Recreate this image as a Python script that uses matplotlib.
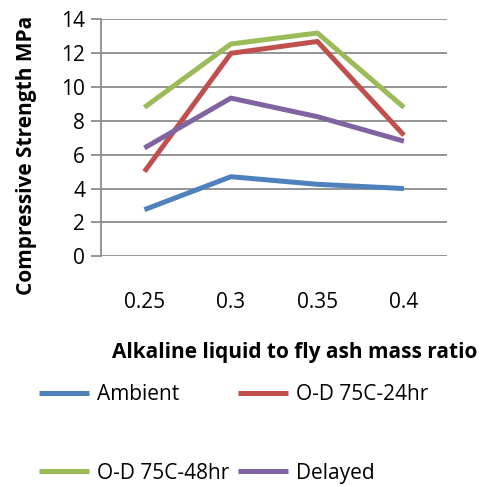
import matplotlib
matplotlib.use("Agg")
import matplotlib.pyplot as plt

ratios = ["0.25", "0.3", "0.35", "0.4"]
ambient = [2.75, 4.7, 4.25, 4.0]
od_24hr = [5.0, 12.0, 12.7, 7.15]
od_48hr = [8.8, 12.55, 13.2, 8.8]
delayed = [6.4, 9.35, 8.25, 6.8]

series = [
    ("Ambient", ambient, "#4F81BD"),
    ("O-D 75C-24hr", od_24hr, "#C0504D"),
    ("O-D 75C-48hr", od_48hr, "#9BBB59"),
    ("Delayed", delayed, "#8064A2"),
]

plt.rcParams['font.family'] = ['Open Sans', 'DejaVu Sans']

fig = plt.figure(figsize=(4.84, 4.87), dpi=100)
ax = fig.add_axes([0.209, 0.474, 0.715, 0.486])

x = list(range(len(ratios)))
lines = {}
for name, vals, color in series:
    lines[name], = ax.plot(x, vals, color=color, lw=3.6, label=name, solid_capstyle='butt')

ax.set_xlim(-0.5, 3.5)
ax.set_ylim(0, 14)
ax.set_yticks(range(0, 15, 2))
ax.set_xticks(x)
ax.set_xticklabels(ratios)
ax.grid(axis='y', color='#8C8C8C', lw=1.3)
ax.set_axisbelow(True)
for s in ['top', 'right', 'bottom']:
    ax.spines[s].set_visible(False)
ax.spines['left'].set_color('#8C8C8C')
ax.spines['left'].set_linewidth(1.3)
ax.tick_params(axis='y', length=7.5, width=1.3, color='#8C8C8C', labelsize=15, pad=4)
ax.tick_params(axis='x', length=0, labelsize=15, pad=26)

fig.text(0.054, 0.68, "Compressive Strength MPa", rotation=90, fontsize=15,
         fontweight='bold', ha='center', va='center')
fig.text(0.608, 0.277, "Alkaline liquid to fly ash mass ratio", fontsize=15,
         fontweight='bold', ha='center', va='center')

# legend is filled column by column, so order handles for row-wise reading
order = ["Ambient", "O-D 75C-48hr", "O-D 75C-24hr", "Delayed"]
fig.legend([lines[n] for n in order], order, loc='upper left',
           bbox_to_anchor=(0.064, 0.228), ncol=2, frameon=False,
           fontsize=15, handlelength=2.4, handletextpad=0.35, columnspacing=0.45,
           labelspacing=2.75, borderaxespad=0)

fig.savefig("out.png", dpi=100)
